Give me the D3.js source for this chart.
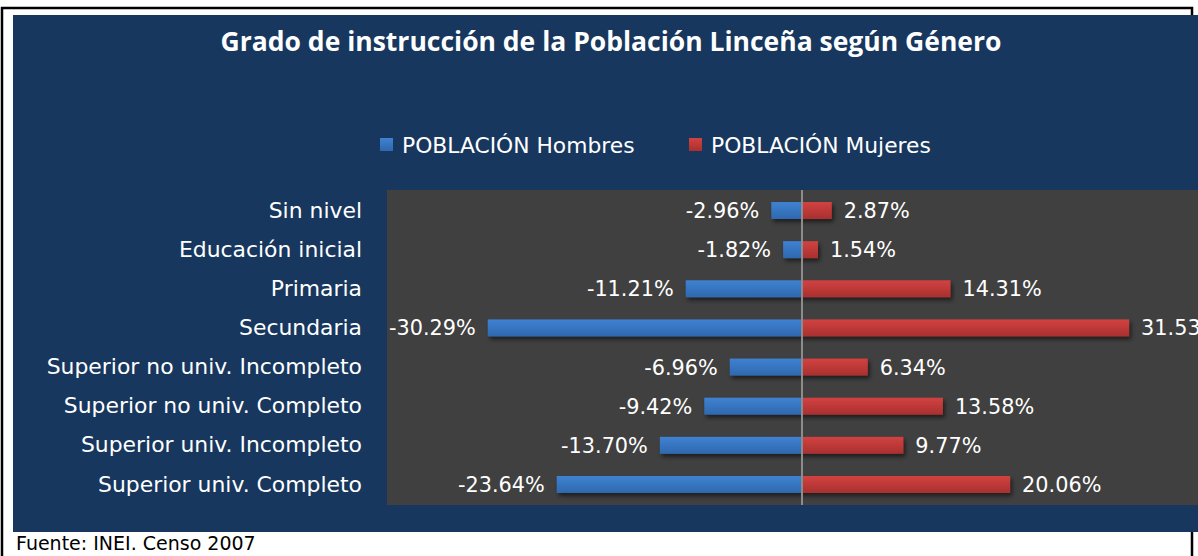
<!DOCTYPE html>
<html>
<head>
<meta charset="utf-8">
<script src="https://cdn.jsdelivr.net/npm/d3@7"></script>
<style>
  html, body { margin: 0; padding: 0; background: #fff; overflow: hidden; }
  svg { display: block; }
  .lbl { font-family: "DejaVu Sans", sans-serif; fill: #fff; }
</style>
</head>
<body>
<div id="chart"></div>
<script>
const categories = ['Sin nivel','Educación inicial','Primaria','Secundaria',
  'Superior no univ. Incompleto','Superior no univ. Completo',
  'Superior univ. Incompleto','Superior univ. Completo'];
const hombres = [-2.96, -1.82, -11.21, -30.29, -6.96, -9.42, -13.70, -23.64];
const mujeres = [2.87, 1.54, 14.31, 31.53, 6.34, 13.58, 9.77, 20.06];
const seriesNames = ['POBLACIÓN Hombres', 'POBLACIÓN Mujeres'];
const titleText = 'Grado de instrucción de la Población Linceña según Género';
const sourceText = 'Fuente: INEI. Censo 2007';

const W = 1198, H = 556;
const navy = '#17375e';
const plotBg = '#404040';

const svg = d3.select('#chart').append('svg')
  .attr('width', W)
  .attr('height', H);

const defs = svg.append('defs');
function grad(id, top, bottom) {
  const g = defs.append('linearGradient').attr('id', id)
    .attr('x1', 0).attr('y1', 0).attr('x2', 0).attr('y2', 1);
  g.append('stop').attr('offset', '0%').attr('stop-color', top);
  g.append('stop').attr('offset', '100%').attr('stop-color', bottom);
}
grad('gBlue', '#3f82d2', '#2f68ae');
grad('gRed', '#d34241', '#a8302f');

const shadow = defs.append('filter').attr('id', 'shadow')
  .attr('x', '-10%').attr('y', '-50%').attr('width', '130%').attr('height', '220%');
shadow.append('feDropShadow')
  .attr('dx', 2).attr('dy', 3).attr('stdDeviation', 2)
  .attr('flood-color', '#000').attr('flood-opacity', 0.55);

// outer frame and chart area
svg.append('path')
  .attr('d', `M2,${H} V8 H1192 V${H}`)
  .attr('fill', 'none').attr('stroke', '#000').attr('stroke-width', 2.5);
svg.append('rect')
  .attr('x', 13).attr('y', 15).attr('width', W - 13).attr('height', 517)
  .attr('fill', navy);

// title
svg.append('text')
  .attr('x', 611).attr('y', 51)
  .attr('text-anchor', 'middle')
  .attr('fill', '#fff')
  .style('font-family', '"Open Sans", sans-serif')
  .style('font-weight', 700)
  .style('font-size', '26.5px')
  .text(titleText);

// legend
const legend = [
  { name: seriesNames[0], fill: 'url(#gBlue)', x: 380 },
  { name: seriesNames[1], fill: 'url(#gRed)', x: 689 }
];
legend.forEach(l => {
  svg.append('rect').attr('x', l.x).attr('y', 138).attr('width', 13).attr('height', 13)
    .attr('fill', l.fill);
  svg.append('text').attr('class', 'lbl')
    .attr('x', l.x + 22).attr('y', 145).attr('dy', '0.36em')
    .style('font-size', '21.8px')
    .text(l.name);
});

// plot area
const plot = { left: 387, top: 190, right: W, bottom: 505 };
svg.append('rect')
  .attr('x', plot.left).attr('y', plot.top)
  .attr('width', plot.right - plot.left).attr('height', plot.bottom - plot.top)
  .attr('fill', plotBg);

const x = d3.scaleLinear().domain([-40, 40]).range([387, 1217]);
const y = d3.scaleBand().domain(categories)
  .range([plot.top, plot.bottom])
  .paddingInner(0.566).paddingOuter(0.307);

const rows = categories.map((c, i) => ({ cat: c, h: hombres[i], m: mujeres[i] }));

const bars = svg.append('g').attr('filter', 'url(#shadow)');
bars.selectAll('rect.h').data(rows).enter().append('rect')
  .attr('class', 'h')
  .attr('x', d => x(d.h)).attr('y', d => y(d.cat))
  .attr('width', d => x(0) - x(d.h)).attr('height', y.bandwidth())
  .attr('fill', 'url(#gBlue)');
bars.selectAll('rect.m').data(rows).enter().append('rect')
  .attr('class', 'm')
  .attr('x', x(0)).attr('y', d => y(d.cat))
  .attr('width', d => x(d.m) - x(0)).attr('height', y.bandwidth())
  .attr('fill', 'url(#gRed)');

// zero line
svg.append('line')
  .attr('x1', x(0)).attr('x2', x(0))
  .attr('y1', plot.top).attr('y2', plot.bottom)
  .attr('stroke', '#8c8c8c').attr('stroke-width', 2);

// category axis
const yAxis = svg.append('g')
  .attr('transform', `translate(${plot.left},0)`)
  .call(d3.axisLeft(y).tickSize(0).tickPadding(25));
yAxis.select('.domain').remove();
yAxis.selectAll('text')
  .attr('class', 'lbl')
  .style('font-size', '21.9px')
  .attr('fill', '#fff');

const fmt = v => v.toFixed(2) + '%';
svg.selectAll('text.vh').data(rows).enter().append('text')
  .attr('class', 'lbl vh')
  .attr('x', d => x(d.h) - 12)
  .attr('y', d => y(d.cat) + y.bandwidth() / 2).attr('dy', '0.36em')
  .attr('text-anchor', 'end')
  .style('font-size', '20.8px')
  .text(d => fmt(d.h));
svg.selectAll('text.vm').data(rows).enter().append('text')
  .attr('class', 'lbl vm')
  .attr('x', d => x(d.m) + 12)
  .attr('y', d => y(d.cat) + y.bandwidth() / 2).attr('dy', '0.36em')
  .style('font-size', '20.8px')
  .text(d => fmt(d.m));

// source
svg.append('text')
  .attr('x', 16).attr('y', 550)
  .attr('fill', '#000')
  .style('font-family', '"DejaVu Sans", sans-serif')
  .style('font-size', '19px')
  .text(sourceText);
</script>
</body>
</html>
